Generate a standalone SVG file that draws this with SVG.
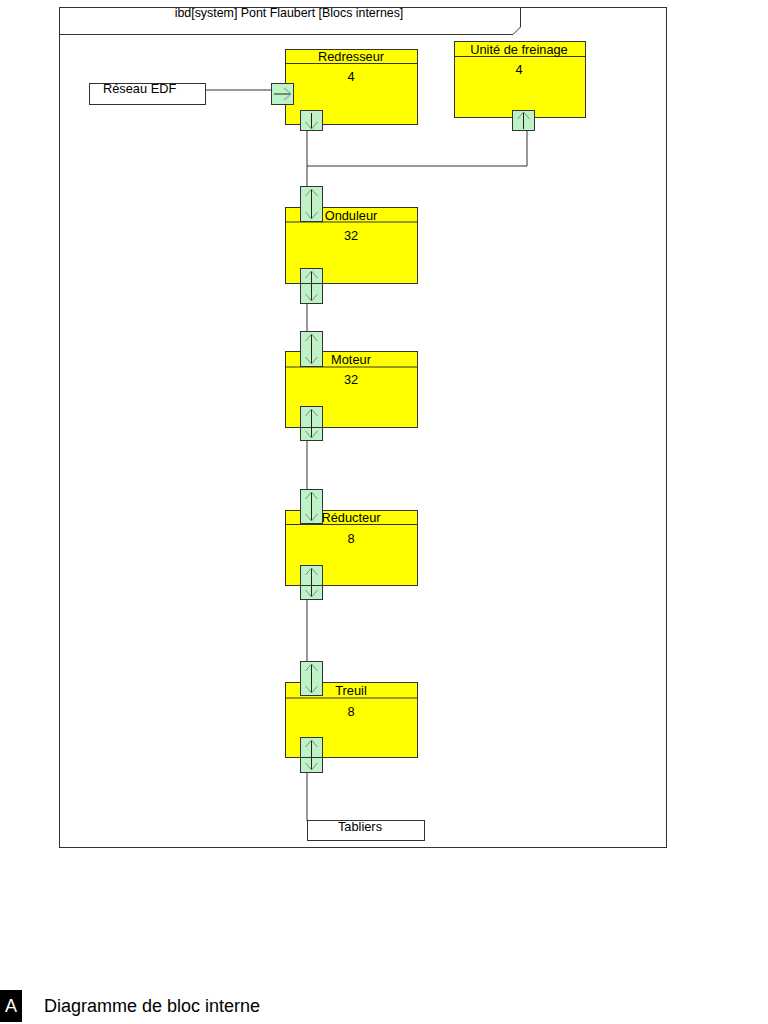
<svg xmlns="http://www.w3.org/2000/svg" width="768" height="1024" viewBox="0 0 768 1024">
<style>
text{font-family:"Liberation Sans",Arial,sans-serif;fill:#000}
.t{font-size:12.8px}
.c{text-anchor:middle}
.blk{fill:#ffff00;stroke:#333;stroke-width:1}
.hd{stroke:#333;stroke-width:1.2}
.box{fill:#fff;stroke:#333;stroke-width:1}
.port{fill:#c0f2c8;stroke:#333;stroke-width:1}
.ax{stroke:#222;stroke-width:1;fill:none}
.ch{stroke:#7f8f7f;stroke-width:1;fill:none}
.con{stroke:#333;stroke-width:1;fill:none}
</style>
<rect width="768" height="1024" fill="#fff"/>
<g id="frame">
<rect x="59.5" y="7.5" width="607" height="840" fill="none" stroke="#333" stroke-width="1"/>
<path d="M59.5 34.5 H513 L520.5 27 V7.5" fill="none" stroke="#333" stroke-width="1"/>
<text x="289" y="17" font-size="12.4" text-anchor="middle">ibd[system] Pont Flaubert [Blocs internes]</text>
</g>
<g id="connectors">
<path class="con" d="M205 90 H271"/>
<path class="con" d="M307 130 V186"/>
<path class="con" d="M307 166 H527 V131"/>
<path class="con" d="M307 303 V332"/>
<path class="con" d="M307 441 V489"/>
<path class="con" d="M307 599 V662"/>
<path class="con" d="M307 772 V821"/>
</g>
<g id="reseau-edf">
<rect class="box" x="89.5" y="83.5" width="116" height="21"/>
<text class="t" x="103" y="93">Réseau EDF</text>
</g>
<g id="redresseur">
<rect class="blk" x="285.5" y="49.5" width="132" height="75"/>
<line class="hd" x1="285.5" y1="63.5" x2="417.5" y2="63.5"/>
<text class="t c" x="351" y="61">Redresseur</text>
<text class="t c" x="351" y="81">4</text>
<rect class="port" x="271.5" y="83.5" width="22" height="21"/>
<line class="ax" x1="274" y1="94" x2="291" y2="94"/>
<path class="ch" d="M284 88 L291 94 L284 100"/>
<rect class="port" x="300.5" y="110.5" width="22" height="20"/>
<line class="ax" x1="311.5" y1="113" x2="311.5" y2="129"/>
<path class="ch" d="M305.5 122 L311.5 129 L317.5 122"/>
</g>
<g id="unite-freinage">
<rect class="blk" x="454.5" y="41.5" width="131" height="76"/>
<line class="hd" x1="454.5" y1="56.5" x2="585.5" y2="56.5"/>
<text class="t c" x="519" y="54">Unité de freinage</text>
<text class="t c" x="519" y="74">4</text>
<rect class="port" x="512.5" y="110.5" width="22" height="20"/>
<line class="ax" x1="523.5" y1="112" x2="523.5" y2="129"/>
<path class="ch" d="M517.5 119 L523.5 112 L529.5 119"/>
</g>
<g id="onduleur">
<rect class="blk" x="285.5" y="207.5" width="132" height="76"/>
<line class="hd" x1="285.5" y1="222" x2="417.5" y2="222"/>
<text class="t c" x="351" y="220">Onduleur</text>
<text class="t c" x="351" y="240">32</text>
<rect class="port" x="300.5" y="186.5" width="22" height="35"/>
<line class="ax" x1="311.5" y1="189" x2="311.5" y2="219"/>
<path class="ch" d="M305.5 196 L311.5 189 L317.5 196 M305.5 212 L311.5 219 L317.5 212"/>
<rect class="port" x="300.5" y="268.5" width="22" height="35"/>
<line class="con" x1="300.5" y1="283.5" x2="322.5" y2="283.5"/>
<line class="ax" x1="311.5" y1="271" x2="311.5" y2="301"/>
<path class="ch" d="M305.5 278 L311.5 271 L317.5 278 M305.5 294 L311.5 301 L317.5 294"/>
</g>
<g id="moteur">
<rect class="blk" x="285.5" y="351.5" width="132" height="76"/>
<line class="hd" x1="285.5" y1="367" x2="417.5" y2="367"/>
<text class="t c" x="351" y="364">Moteur</text>
<text class="t c" x="351" y="384">32</text>
<rect class="port" x="300.5" y="331.5" width="22" height="35"/>
<line class="ax" x1="311.5" y1="334" x2="311.5" y2="364"/>
<path class="ch" d="M305.5 341 L311.5 334 L317.5 341 M305.5 357 L311.5 364 L317.5 357"/>
<rect class="port" x="300.5" y="406.5" width="22" height="34"/>
<line class="con" x1="300.5" y1="427.5" x2="322.5" y2="427.5"/>
<line class="ax" x1="311.5" y1="409" x2="311.5" y2="438"/>
<path class="ch" d="M305.5 416 L311.5 409 L317.5 416 M305.5 431 L311.5 438 L317.5 431"/>
</g>
<g id="reducteur">
<rect class="blk" x="285.5" y="510.5" width="132" height="75"/>
<line class="hd" x1="285.5" y1="524.5" x2="417.5" y2="524.5"/>
<text class="t c" x="351" y="522">Réducteur</text>
<text class="t c" x="351" y="543">8</text>
<rect class="port" x="300.5" y="489.5" width="22" height="34"/>
<line class="ax" x1="311.5" y1="492" x2="311.5" y2="521"/>
<path class="ch" d="M305.5 499 L311.5 492 L317.5 499 M305.5 514 L311.5 521 L317.5 514"/>
<rect class="port" x="300.5" y="565.5" width="22" height="34"/>
<line class="con" x1="300.5" y1="585.5" x2="322.5" y2="585.5"/>
<line class="ax" x1="311.5" y1="568" x2="311.5" y2="597"/>
<path class="ch" d="M305.5 575 L311.5 568 L317.5 575 M305.5 590 L311.5 597 L317.5 590"/>
</g>
<g id="treuil">
<rect class="blk" x="285.5" y="682.5" width="132" height="75"/>
<line class="hd" x1="285.5" y1="698" x2="417.5" y2="698"/>
<text class="t c" x="351" y="695">Treuil</text>
<text class="t c" x="351" y="716">8</text>
<rect class="port" x="300.5" y="661.5" width="22" height="34"/>
<line class="ax" x1="311.5" y1="664" x2="311.5" y2="693"/>
<path class="ch" d="M305.5 671 L311.5 664 L317.5 671 M305.5 686 L311.5 693 L317.5 686"/>
<rect class="port" x="300.5" y="737.5" width="22" height="35"/>
<line class="con" x1="300.5" y1="757.5" x2="322.5" y2="757.5"/>
<line class="ax" x1="311.5" y1="740" x2="311.5" y2="770"/>
<path class="ch" d="M305.5 747 L311.5 740 L317.5 747 M305.5 763 L311.5 770 L317.5 763"/>
</g>
<g id="tabliers">
<rect class="box" x="307.5" y="820.5" width="117" height="20"/>
<text class="t c" x="360" y="831">Tabliers</text>
</g>
<g id="caption">
<rect x="0" y="990" width="22" height="32" fill="#000"/>
<text x="11" y="1012" font-size="18" text-anchor="middle" style="fill:#fff">A</text>
<text x="44" y="1012" font-size="18">Diagramme de bloc interne</text>
</g>
</svg>
